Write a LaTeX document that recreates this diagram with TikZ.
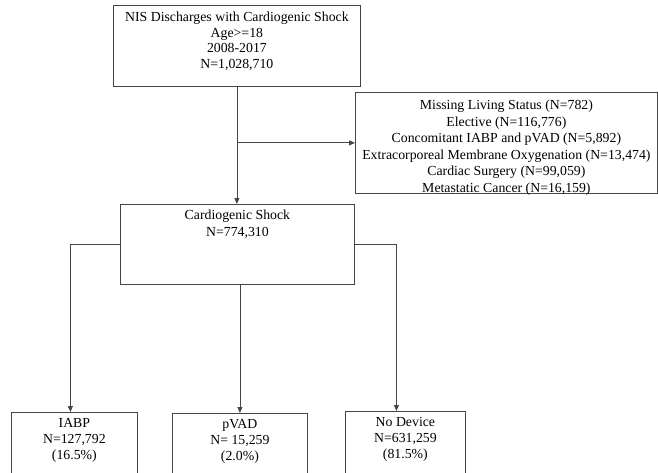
\documentclass[tikz,border=0pt]{standalone}
\usepackage{fontspec}
\setmainfont{Liberation Serif}
\usetikzlibrary{arrows.meta,positioning}
\definecolor{linegray}{rgb}{0.27,0.27,0.27}
\newcommand{\boxtext}[4]{\parbox[c][#1][t]{#2}{\centering\rule{0pt}{#3}#4}}

\begin{document}
\begin{tikzpicture}[x=1pt, y=-1pt,
    box/.style={draw=linegray, line width=0.8pt, inner sep=0pt, anchor=north west},
    arr/.style={-{Triangle[length=6pt, width=5pt]}, line width=0.8pt, color=linegray}
  ]
  \clip (0,0) rectangle (658,473);
  % top of the chart
  \node[box, font=\fontsize{13.8}{15.5}\selectfont] (nis) at (113,5)
    {\boxtext{81pt}{247pt}{16.5pt}{NIS Discharges with Cardiogenic Shock\\ Age>=18\\ 2008-2017\\ N=1,028,710}};
  \node[box, font=\fontsize{13.8}{16.5}\selectfont] (excl) at (355,92)
    {\boxtext{101pt}{302pt}{17.5pt}{Missing Living Status (N=782)\\ Elective (N=116,776)\\ Concomitant IABP and pVAD (N=5,892)\\ Extracorporeal Membrane Oxygenation (N=13,474)\\ Cardiac Surgery (N=99,059)\\ Metastatic Cancer (N=16,159)}};
  \node[box, font=\fontsize{13.8}{17}\selectfont] (cs) at (120,204)
    {\boxtext{80pt}{234pt}{15.5pt}{Cardiogenic Shock\\ N=774,310}};
  % devices
  \node[box, font=\fontsize{13.8}{16}\selectfont] (iabp) at (11,412)
    {\boxtext{70pt}{126pt}{15.5pt}{IABP\\ N=127,792\\ (16.5\%)}};
  \node[box, font=\fontsize{13.8}{16}\selectfont] (pvad) at (172,413)
    {\boxtext{70pt}{135pt}{15.5pt}{pVAD\\ N= 15,259\\ (2.0\%)}};
  \node[box, font=\fontsize{13.8}{16}\selectfont] (nodev) at (345,411)
    {\boxtext{70pt}{120pt}{15.5pt}{No Device\\ N=631,259\\ (81.5\%)}};

  \coordinate (split) at (nis.south |- excl.west);
  \draw[arr] (nis.south) -- (nis.south |- cs.north);
  \draw[arr] (split) -- (excl.west);
  \draw[arr] (cs.west) -| ([xshift=-4pt]iabp.north);
  \draw[arr] (cs.south -| pvad.north) -- (pvad.north);
  \draw[arr] (cs.east) -| ([xshift=-9pt]nodev.north);
\end{tikzpicture}
\end{document}
